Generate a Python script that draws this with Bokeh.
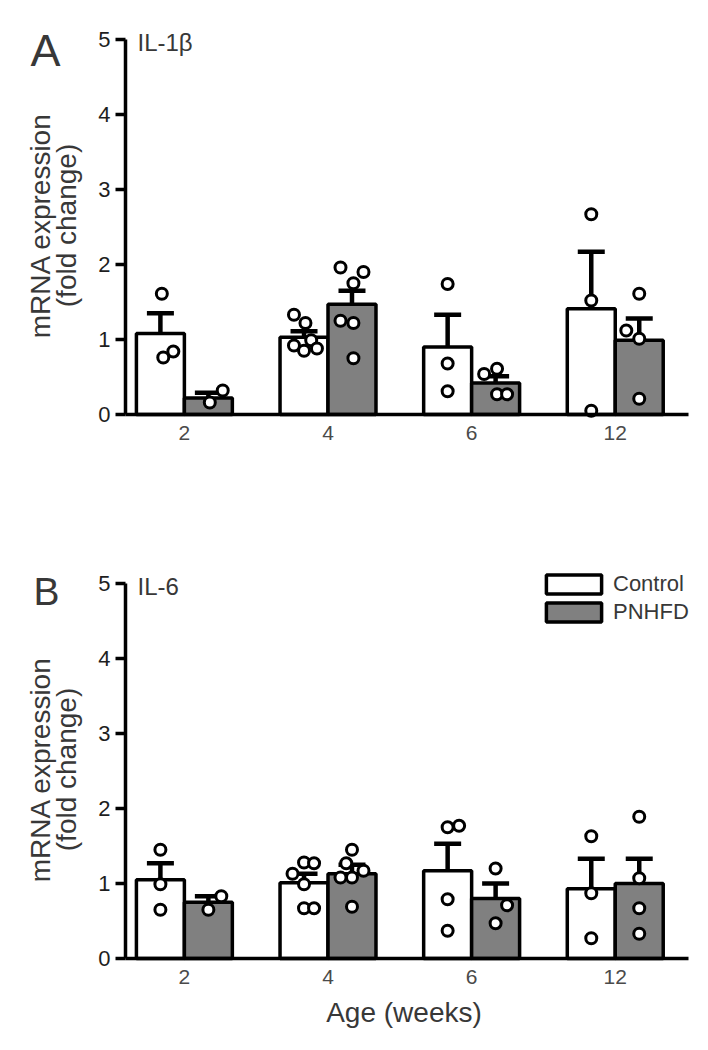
import math
from bokeh.plotting import figure
from bokeh.models import (Range1d, FixedTicker, Label, Legend, LegendItem,
                          ColumnDataSource)
from bokeh.layouts import column
from bokeh.embed import file_html
from bokeh.resources import INLINE

# ---------------- data ----------------
weeks = ["2", "4", "6", "12"]
groups = ["Control", "PNHFD"]

il1b_ctrl_mean = [1.08, 1.03, 0.90, 1.41]
il1b_ctrl_sem = [0.27, 0.08, 0.43, 0.76]
il1b_pnhfd_mean = [0.22, 1.47, 0.42, 0.99]
il1b_pnhfd_sem = [0.07, 0.18, 0.09, 0.29]
il1b_ctrl_points = [[1.61, 0.76, 0.84], [1.33, 1.22, 0.92, 0.85, 0.99, 0.88],
                    [1.74, 0.68, 0.31], [2.67, 1.52, 0.05]]
il1b_ctrl_jitter = [[0.01, 0.02, 0.09], [-0.07, 0.01, -0.07, 0.0, 0.05, 0.09],
                    [0.0, 0.0, 0.0], [0.0, 0.0, 0.0]]
il1b_pnhfd_points = [[0.16, 0.32], [1.96, 1.90, 1.75, 1.25, 1.22, 0.75],
                     [0.54, 0.61, 0.27, 0.27], [1.61, 1.12, 1.01, 0.21]]
il1b_pnhfd_jitter = [[0.01, 0.10], [-0.08, 0.08, 0.01, -0.08, 0.01, 0.01],
                     [-0.08, 0.01, 0.01, 0.08], [0.0, -0.09, 0.0, 0.0]]

il6_ctrl_mean = [1.05, 1.01, 1.17, 0.93]
il6_ctrl_sem = [0.22, 0.12, 0.36, 0.40]
il6_pnhfd_mean = [0.75, 1.13, 0.80, 1.00]
il6_pnhfd_sem = [0.08, 0.12, 0.20, 0.33]
il6_ctrl_points = [[1.45, 0.99, 0.65], [1.28, 1.27, 1.13, 0.99, 0.67, 0.67],
                   [1.75, 1.77, 0.79, 0.37], [1.63, 0.87, 0.27]]
il6_ctrl_jitter = [[0.0, 0.0, 0.0], [0.0, 0.07, -0.08, 0.0, 0.0, 0.07],
                   [0.0, 0.08, 0.0, 0.0], [0.0, 0.0, 0.0]]
il6_pnhfd_points = [[0.83, 0.65], [1.45, 1.27, 1.17, 1.08, 1.08, 0.69],
                    [1.20, 0.71, 0.47], [1.89, 1.07, 0.67, 0.33]]
il6_pnhfd_jitter = [[0.09, 0.0], [0.0, -0.04, 0.08, -0.08, 0.0, 0.0],
                    [0.0, 0.08, 0.0], [0.0, 0.0, 0.0, 0.0]]

y_ticks = [0, 1, 2, 3, 4, 5]

# ---------------- style / layout ----------------
FONT = "Liberation Sans"
BW = 0.334                 # bar width (category units)
XS, XE = -0.41, 3.51       # extent of the drawn x axis
AX_LEFT_PX, AX_RIGHT_PX = 125, 688
PXX = (AX_RIGHT_PX - AX_LEFT_PX) / (XE - XS)
PXY = 75.0                 # px per y unit
FIG_W = 708
GRAY = "#808080"
TXT = "#383838"


def build(panel, gene, c_mean, c_sem, c_pts, c_jit, p_mean, p_sem, p_pts, p_jit,
          fig_top, height, y5_px, legend=False, bottom_title=False):
    def dx(px):
        return XS + (px - AX_LEFT_PX) / PXX

    def dy(py):
        return 5 - (py - y5_px) / PXY

    p = figure(width=FIG_W, height=height,
               x_range=Range1d(dx(0), dx(FIG_W)),
               y_range=Range1d(dy(fig_top + height), dy(fig_top)),
               output_backend="svg", toolbar_location=None, min_border=0)
    p.outline_line_color = None
    p.grid.visible = False
    p.background_fill_color = "white"

    idx = list(range(len(weeks)))
    renderers = []
    for means, sems, pts, jit, off, fill in (
            (c_mean, c_sem, c_pts, c_jit, -BW / 2, "white"),
            (p_mean, p_sem, p_pts, p_jit, BW / 2, GRAY)):
        xs = [i + off for i in idx]
        src = ColumnDataSource(dict(x=xs, top=means,
                                    up=[m + s for m, s in zip(means, sems)]))
        r = p.vbar(x="x", top="top", bottom=0, width=BW, source=src,
                   fill_color=fill, line_color="black", line_width=3.5)
        renderers.append(r)
        p.segment(x0="x", y0="top", x1="x", y1="up", source=src,
                  line_color="black", line_width=4.5)
        p.scatter(x="x", y="up", source=src, marker="dash", size=27,
                  line_color="black", line_width=4.5)
        px_, py_ = [], []
        for i, (vals, js) in enumerate(zip(pts, jit)):
            for v, j in zip(vals, js):
                px_.append(xs[i] + j)
                py_.append(v)
        p.scatter(x=px_, y=py_, marker="circle", size=11, fill_color="white",
                  line_color="black", line_width=3)

    # y axis
    ya = p.yaxis[0]
    ya.fixed_location = XS
    ya.ticker = FixedTicker(ticks=y_ticks)
    ya.bounds = (0, 5)
    ya.axis_line_width = 3.5
    ya.major_tick_line_width = 3.5
    ya.major_tick_out = 10
    ya.major_tick_in = 0
    ya.minor_tick_line_color = None
    ya.major_label_standoff = 5
    ya.major_label_text_font = FONT
    ya.major_label_text_font_size = "22px"
    ya.major_label_text_color = "#1e1e1e"

    # x axis
    xa = p.xaxis[0]
    xa.fixed_location = 0
    xa.bounds = (XS, XE)
    xa.ticker = FixedTicker(ticks=idx)
    xa.major_label_overrides = {i: w for i, w in enumerate(weeks)}
    xa.axis_line_width = 3.5
    xa.major_tick_line_color = None
    xa.minor_tick_line_color = None
    xa.major_tick_out = 0
    xa.major_tick_in = 0
    xa.major_label_standoff = 11
    xa.major_label_text_font = FONT
    xa.major_label_text_font_size = "21px"
    xa.major_label_text_color = "#4a4a4a"

    # texts (y positions compensated for Bokeh's label anchoring)
    if panel == "A":
        p.add_layout(Label(x=dx(30), y=dy(50), text=panel, text_font=FONT,
                           text_font_size="45px", text_color=TXT,
                           text_align="left", text_baseline="alphabetic"))
    else:
        p.add_layout(Label(x=dx(33), y=dy(591), text=panel, text_font=FONT,
                           text_font_size="39px", text_color=TXT,
                           text_align="left", text_baseline="alphabetic"))
    p.add_layout(Label(x=dx(137), y=dy(y5_px + 3), text=gene,
                       text_font=FONT, text_font_size="24px", text_color=TXT,
                       text_align="left", text_baseline="alphabetic"))
    for txt, bx in (("mRNA expression", 40), ("(fold change)", 66)):
        p.add_layout(Label(x=dx(bx), y=dy(y5_px + 186), text=txt,
                           angle=math.pi / 2, text_font=FONT,
                           text_font_size="28px", text_color=TXT,
                           text_align="center", text_baseline="alphabetic"))
    if bottom_title:
        p.add_layout(Label(x=dx(403.5), y=dy(1012), text="Age (weeks)",
                           text_font=FONT, text_font_size="28px",
                           text_color=TXT, text_align="center",
                           text_baseline="alphabetic"))
    if legend:
        lg = Legend(items=[LegendItem(label=groups[0], renderers=[renderers[0]]),
                           LegendItem(label=groups[1], renderers=[renderers[1]])],
                    location=(539, fig_top + height - 625),
                    orientation="vertical",
                    glyph_width=69, glyph_height=24, label_height=26,
                    spacing=2, padding=0, margin=0, border_line_color=None,
                    background_fill_alpha=0, label_text_font=FONT,
                    label_text_font_size="22px", label_standoff=5,
                    label_text_color=TXT)
        p.add_layout(lg)
    return p


pA = build("A", "IL-1β", il1b_ctrl_mean, il1b_ctrl_sem, il1b_ctrl_points,
           il1b_ctrl_jitter, il1b_pnhfd_mean, il1b_pnhfd_sem, il1b_pnhfd_points,
           il1b_pnhfd_jitter, fig_top=0, height=540, y5_px=39)
pB = build("B", "IL-6", il6_ctrl_mean, il6_ctrl_sem, il6_ctrl_points,
           il6_ctrl_jitter, il6_pnhfd_mean, il6_pnhfd_sem, il6_pnhfd_points,
           il6_pnhfd_jitter, fig_top=540, height=510, y5_px=583,
           legend=True, bottom_title=True)

layout = column(pA, pB, spacing=0)
open("out.html", "w").write(file_html(layout, INLINE))
